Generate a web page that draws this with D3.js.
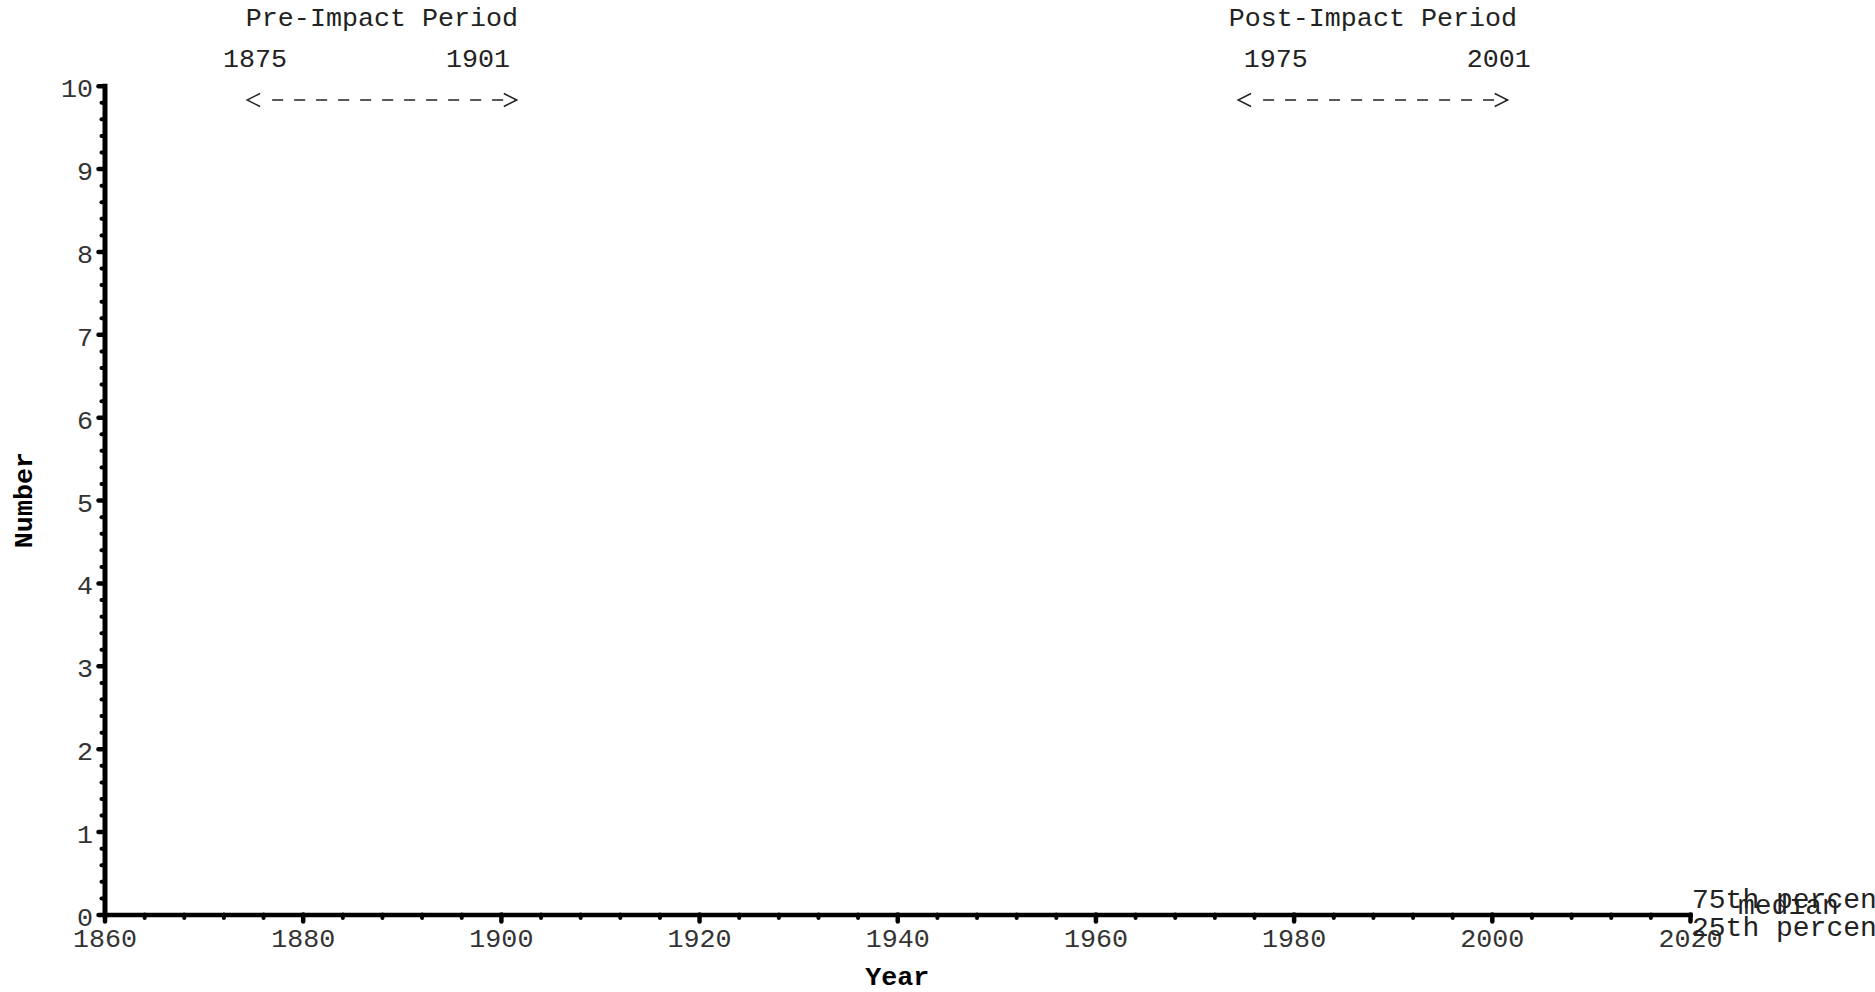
<!DOCTYPE html>
<meta charset="utf-8">
<style>

body {
  margin: 0;
  background: #fff;
  overflow: hidden;
}

svg {
  display: block;
  font-family: "Liberation Mono", "Courier New", monospace;
}

.axis path,
.axis line {
  stroke: #000;
  stroke-linecap: round;
}

.axis text {
  font-size: 26.7px;
  fill: #333;
  font-family: "Liberation Mono", monospace;
}

</style>
<body>
<script src="https://cdn.jsdelivr.net/npm/d3@7"></script>
<script>

var width = 1875,
    height = 992;

// axis ticks
var xTicks = [1860, 1880, 1900, 1920, 1940, 1960, 1980, 2000, 2020];
var xMinorTicks = d3.range(1860, 2021, 4).filter(function(d) { return d % 20 !== 0; });
var yTicks = [0, 1, 2, 3, 4, 5, 6, 7, 8, 9, 10];
var yMinorTicks = d3.range(0, 50).map(function(i) { return i / 5; }).filter(function(d) { return d % 1 !== 0; });

// the two comparison periods shown over the plot
var periodNames = ["Pre-Impact Period", "Post-Impact Period"];
var periodStart = [1875, 1975];
var periodEnd = [1901, 2001];
// where the year labels sit
var startLabelAt = [1875.2, 1978.2];
var endLabelAt = [1897.7, 2000.7];

var legendLabels = ["75th percentile", "median", "25th percentile"];

var x = d3.scaleLinear()
    .domain([1860, 2020])
    .range([104.5, 1690]);

var y = d3.scaleLinear()
    .domain([0, 10])
    .range([914.5, 85.7]);

var svg = d3.select("body").append("svg")
    .attr("width", width)
    .attr("height", height);

// minor ticks first, majors drawn on top
svg.append("g")
    .attr("class", "axis")
    .attr("transform", "translate(0," + y(0) + ")")
    .call(d3.axisBottom(x).tickValues(xMinorTicks).tickSize(3.5).tickSizeOuter(0).tickFormat(""))
    .call(function(g) { g.select(".domain").remove(); })
    .selectAll("line").attr("stroke-width", 4);

svg.append("g")
    .attr("class", "axis")
    .attr("transform", "translate(" + x(1860) + ",0)")
    .call(d3.axisLeft(y).tickValues(yMinorTicks).tickSize(3).tickSizeOuter(0).tickFormat(""))
    .call(function(g) { g.select(".domain").remove(); })
    .selectAll("line").attr("stroke-width", 4);

var xAxis = svg.append("g")
    .attr("class", "axis")
    .attr("transform", "translate(0," + y(0) + ")")
    .call(d3.axisBottom(x).tickValues(xTicks).tickSize(7).tickSizeOuter(0).tickFormat(d3.format("d")));

xAxis.select(".domain").attr("stroke-width", 4.5).style("stroke-linecap", "square");
xAxis.selectAll("line").attr("stroke-width", 4.5);
xAxis.selectAll("text").attr("y", 32).attr("dy", null);

var yAxis = svg.append("g")
    .attr("class", "axis")
    .attr("transform", "translate(" + x(1860) + ",0)")
    .call(d3.axisLeft(y).tickValues(yTicks).tickSize(6).tickSizeOuter(0).tickPadding(5.5));

yAxis.select(".domain").attr("stroke-width", 5).style("stroke-linecap", "square");
yAxis.selectAll("line").attr("stroke-width", 4.5);
yAxis.selectAll("text").attr("dy", 11);

// axis titles
svg.append("text")
    .attr("x", (x(1860) + x(2020)) / 2)
    .attr("y", 985)
    .attr("text-anchor", "middle")
    .style("font-size", "26.7px")
    .style("font-weight", "bold")
    .text("Year");

svg.append("text")
    .attr("transform", "translate(32," + (y(0) + y(10)) / 2 + ")rotate(-90)")
    .attr("text-anchor", "middle")
    .style("font-size", "26.7px")
    .style("font-weight", "bold")
    .text("Number");

// period annotations
var periods = svg.selectAll(".period")
    .data(periodNames)
  .enter().append("g")
    .attr("class", "period");

periods.append("text")
    .attr("x", function(d, i) { return x((periodStart[i] + periodEnd[i]) / 2); })
    .attr("y", 26)
    .attr("text-anchor", "middle")
    .style("font-size", "26.7px")
    .attr("fill", "#222")
    .text(function(d) { return d; });

periods.append("text")
    .attr("x", function(d, i) { return x(startLabelAt[i]); })
    .attr("y", 67)
    .attr("text-anchor", "middle")
    .style("font-size", "26.7px")
    .attr("fill", "#222")
    .text(function(d, i) { return periodStart[i]; });

periods.append("text")
    .attr("x", function(d, i) { return x(endLabelAt[i]); })
    .attr("y", 67)
    .attr("text-anchor", "middle")
    .style("font-size", "26.7px")
    .attr("fill", "#222")
    .text(function(d, i) { return periodEnd[i]; });

// dashed double arrow under each period
var arrowY = 100;

periods.append("line")
    .attr("x1", function(d, i) { return x(periodStart[i]) + 19; })
    .attr("x2", function(d, i) { return x(periodEnd[i]) + 6; })
    .attr("y1", arrowY)
    .attr("y2", arrowY)
    .attr("stroke", "#222")
    .attr("stroke-width", 1.4)
    .attr("stroke-dasharray", "11,11");

periods.append("path")
    .attr("fill", "none")
    .attr("stroke", "#222")
    .attr("stroke-width", 1.4)
    .attr("d", function(d, i) {
      var a = x(periodStart[i]) - 6;
      return "M" + (a + 13) + "," + (arrowY - 6.5) + "L" + a + "," + arrowY + "L" + (a + 13) + "," + (arrowY + 6.5);
    });

periods.append("path")
    .attr("fill", "none")
    .attr("stroke", "#222")
    .attr("stroke-width", 1.4)
    .attr("d", function(d, i) {
      var b = x(periodEnd[i]) + 6;
      return "M" + (b - 13) + "," + (arrowY - 6.5) + "L" + b + "," + arrowY + "L" + (b - 13) + "," + (arrowY + 6.5);
    });

// legend labels crowded at the end of the x axis (run off the right edge)
var legendDx = [2, 48, 2];
var legendY = [908, 914, 936];

svg.selectAll(".legend")
    .data(legendLabels)
  .enter().append("text")
    .attr("class", "legend")
    .attr("x", function(d, i) { return x(2020) + legendDx[i]; })
    .attr("y", function(d, i) { return legendY[i]; })
    .style("font-size", "28px")
    .attr("fill", "#222")
    .text(function(d) { return d; });

</script>
